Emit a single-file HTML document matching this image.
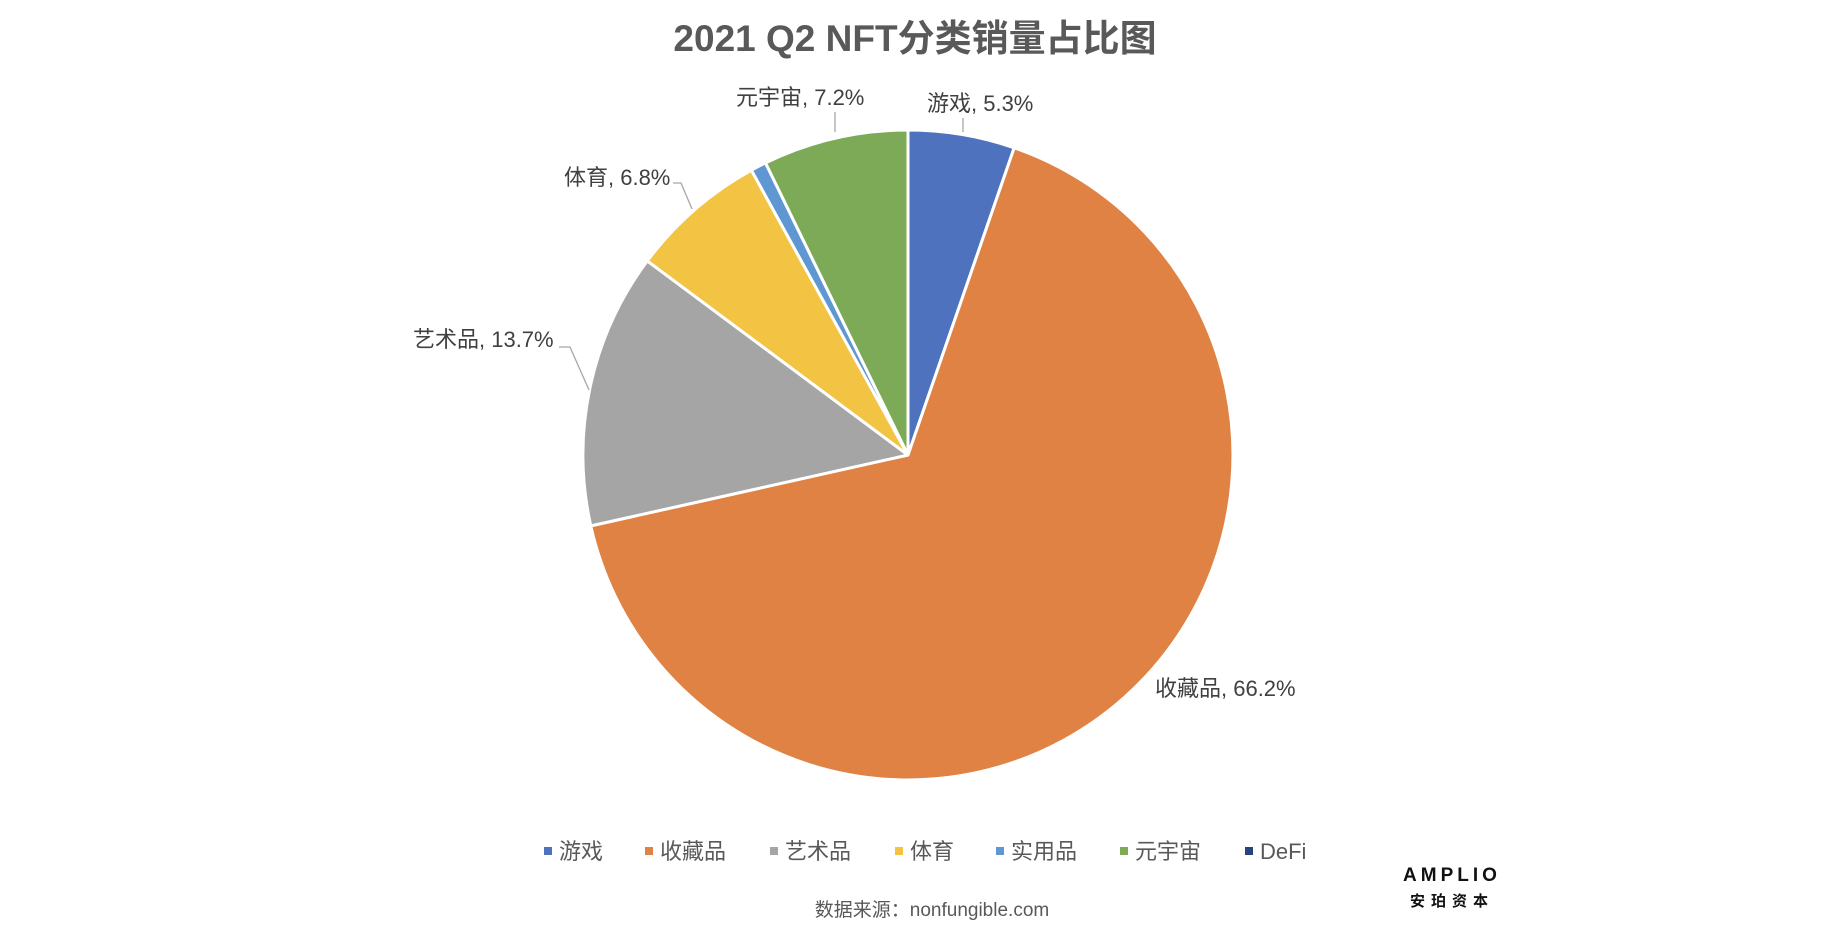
<!DOCTYPE html>
<html><head><meta charset="utf-8"><style>
html,body{margin:0;padding:0;background:#fff;}
svg{display:block;}
text{font-family:"Liberation Sans","Noto Sans CJK SC",sans-serif;}
</style></head><body>
<svg width="1842" height="936" viewBox="0 0 1842 936" xmlns="http://www.w3.org/2000/svg">
<rect width="1842" height="936" fill="#fff"/>
<text x="915" y="51" text-anchor="middle" font-size="37" font-weight="bold" fill="#595959">2021 Q2 NFT分类销量占比图</text>
<g transform="translate(-5,0)">
<g stroke="#fff" stroke-width="3" stroke-linejoin="round">
<path d="M913,455 L913,130 A325,325 0 0 1 1019.2,147.8 Z" fill="#4E72BD"/>
<path d="M913,455 L1019.2,147.8 A325,325 0 1 1 595.8,525.9 Z" fill="#DF8244"/>
<path d="M913,455 L595.8,525.9 A325,325 0 0 1 652.3,260.9 Z" fill="#A5A5A5"/>
<path d="M913,455 L652.3,260.9 A325,325 0 0 1 756.4,170.2 Z" fill="#F3C343"/>
<path d="M913,455 L756.4,170.2 A325,325 0 0 1 770.5,162.9 Z" fill="#5F97D2"/>
<path d="M913,455 L770.5,162.9 A325,325 0 0 1 913,130 Z" fill="#7DAA56"/>
</g>
<g stroke="#A6A6A6" stroke-width="1.3" fill="none">
<path d="M968,118 L968,132"/>
<path d="M840,112 L840,132"/>
<path d="M678,183 L686,183 L697,209"/>
<path d="M564,347 L575,347 L594,390"/>
</g>
</g>
<g font-size="22" fill="#404040">
<text x="927" y="111">游戏, 5.3%</text>
<text x="736" y="105">元宇宙, 7.2%</text>
<text x="564" y="185">体育, 6.8%</text>
<text x="413" y="347">艺术品, 13.7%</text>
<text x="1155" y="696">收藏品, 66.2%</text>
</g>
<g font-size="22" fill="#595959">
<rect x="544" y="847" width="8" height="8" fill="#4E72BD"/><text x="559" y="859">游戏</text>
<rect x="645" y="847" width="8" height="8" fill="#DF8244"/><text x="660" y="859">收藏品</text>
<rect x="770" y="847" width="8" height="8" fill="#A5A5A5"/><text x="785" y="859">艺术品</text>
<rect x="895" y="847" width="8" height="8" fill="#F3C343"/><text x="910" y="859">体育</text>
<rect x="996" y="847" width="8" height="8" fill="#5F97D2"/><text x="1011" y="859">实用品</text>
<rect x="1120" y="847" width="8" height="8" fill="#7DAA56"/><text x="1135" y="859">元宇宙</text>
<rect x="1245" y="847" width="8" height="8" fill="#264478"/><text x="1260" y="859">DeFi</text>
</g>
<text x="932" y="916" text-anchor="middle" font-size="19" fill="#595959">数据来源：nonfungible.com</text>
<text x="1452" y="881" text-anchor="middle" font-size="19" font-weight="bold" fill="#111" letter-spacing="4">AMPLIO</text>
<text x="1452" y="906" text-anchor="middle" font-size="15" font-weight="bold" fill="#111" letter-spacing="6">安珀资本</text>
</svg>
</body></html>
